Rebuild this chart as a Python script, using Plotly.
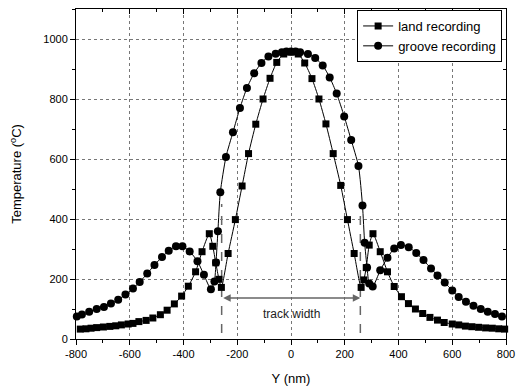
import plotly.graph_objects as go

# ---- data ----
land_y = [-784, -763, -744, -723, -698, -674, -652, -631, -606, -588, -566, -539, -514, -486, -461, -434, -407, -382,
          -355, -331, -304, -291, -280, -268, -259, -234, -207, -182, -158, -131, -104, -78, -53, -27, 0, 27,
          51, 78, 104, 130, 157, 185, 210, 235, 261, 271, 280, 291, 305, 332, 359, 384, 411, 437, 463, 490,
          517, 545, 570, 600, 624, 649, 673, 698, 724, 749, 773, 795]
land_t = [33, 34, 36, 38, 40, 42, 44, 47, 50, 52, 58, 62, 70, 81, 96, 117, 143, 176,
          224, 291, 351, 309, 254, 199, 172, 285, 398, 510, 618, 716, 800, 869, 922, 950, 956, 950,
          920, 868, 800, 717, 618, 512, 398, 285, 172, 197, 238, 313, 351, 291, 224, 175, 141, 118, 100, 85,
          72, 63, 55, 50, 47, 43, 41, 39, 37, 36, 34, 33]

groove_y = [-797, -778, -751, -723, -696, -670, -643, -616, -588, -563, -535, -508, -480, -455, -428, -404, -377,
            -348, -324, -298, -285, -279, -272, -263, -242, -216, -190, -164, -137, -110, -84, -57, -34, -17, 0,
            17, 34, 63, 90, 118, 144, 170, 198, 224, 251, 266, 274, 283, 291, 304, 332, 359, 384, 409, 438,
            466, 493, 521, 545, 572, 600, 624, 651, 679, 706, 732, 759, 785]
groove_t = [75, 82, 91, 100, 107, 118, 131, 148, 168, 190, 218, 247, 273, 294, 309, 309, 292,
            259, 214, 166, 192, 255, 359, 489, 607, 689, 770, 837, 886, 920, 942, 951, 956, 958, 958,
            958, 956, 950, 937, 912, 872, 818, 742, 663, 577, 445, 321, 238, 185, 175, 229, 271, 302, 313, 306,
            287, 263, 235, 212, 188, 162, 140, 124, 111, 100, 91, 83, 75]

x_ticks = [-800, -600, -400, -200, 0, 200, 400, 600, 800]
x_ticklabels = ["-800", "-600", "-400", "-200", "0", "200", "400", "600", "800"]
y_ticks = [0, 200, 400, 600, 800, 1000]
y_ticklabels = ["0", "200", "400", "600", "800", "1000"]

track_edges = [-258, 258]
track_line_span = [20, 450]
arrow_level = 137
label_level = 82

series_names = ["land recording", "groove recording"]

FONT = "Liberation Sans, Arial, sans-serif"

fig = go.Figure()

# dashed track edges
for xe in track_edges:
    fig.add_shape(type="line", xref="x", yref="y", x0=xe, x1=xe,
                  y0=track_line_span[0], y1=track_line_span[1],
                  line=dict(color="#666666", width=1.5, dash="dash"), layer="below")

fig.add_trace(go.Scatter(
    x=land_y, y=land_t, name=series_names[0], mode="lines+markers",
    line=dict(color="black", width=1, shape="spline", smoothing=0.6),
    marker=dict(symbol="square", size=7, color="black"),
    cliponaxis=False,
))
fig.add_trace(go.Scatter(
    x=groove_y, y=groove_t, name=series_names[1], mode="lines+markers",
    line=dict(color="black", width=1, shape="spline", smoothing=0.6),
    marker=dict(symbol="circle", size=8, color="black"),
    cliponaxis=False,
))

# double-headed "track width" arrow
fig.add_annotation(x=track_edges[1], y=arrow_level, ax=track_edges[0], ay=arrow_level,
                   xref="x", yref="y", axref="x", ayref="y", text="",
                   showarrow=True, arrowhead=2, startarrowhead=2, arrowside="end+start",
                   arrowsize=1, startarrowsize=1, arrowwidth=1.5, arrowcolor="#666666")
fig.add_annotation(x=0, y=label_level, xref="x", yref="y", text="track width",
                   showarrow=False, font=dict(family=FONT, size=12, color="#222222"))

axis_common = dict(
    showline=True, linecolor="black", linewidth=1,
    ticks="outside", ticklen=5, tickwidth=1, tickcolor="black",
    showgrid=True, gridcolor="#777777", griddash="dot", gridwidth=1,
    zeroline=False, automargin=False,
    tickfont=dict(family=FONT, size=11, color="black"),
    minor=dict(ticks="outside", ticklen=3, tickcolor="black", showgrid=False, dtick=100),
)

fig.update_layout(
    width=532, height=392,
    margin=dict(l=68, r=34, t=1, b=61),
    paper_bgcolor="white", plot_bgcolor="white",
    font=dict(family=FONT, size=12, color="black"),
    xaxis=dict(range=[-800, 800], tickmode="array", tickvals=x_ticks, ticktext=x_ticklabels,
               title=dict(text="Y (nm)", font=dict(family=FONT, size=13), standoff=14),
               **axis_common),
    yaxis=dict(range=[0, 1100], tickmode="array", tickvals=y_ticks, ticktext=y_ticklabels,
               title=dict(text="Temperature (<sup>o</sup>C)", font=dict(family=FONT, size=13), standoff=22),
               **axis_common),
    xaxis2=dict(overlaying="x", matches="x", side="top", range=[-800, 800], dtick=200, tick0=-800,
                showline=True, linecolor="black", linewidth=1, ticks="inside", ticklen=5,
                tickcolor="black", showticklabels=False, showgrid=False, zeroline=False,
                minor=dict(ticks="inside", ticklen=3, tickcolor="black", showgrid=False, dtick=100)),
    yaxis2=dict(overlaying="y", matches="y", side="right", range=[0, 1100], dtick=200, tick0=0,
                showline=True, linecolor="black", linewidth=1, ticks="inside", ticklen=5,
                tickcolor="black", showticklabels=False, showgrid=False, zeroline=False,
                minor=dict(ticks="inside", ticklen=3, tickcolor="black", showgrid=False, dtick=100)),
    legend=dict(x=0.991, y=0.997, xanchor="right", yanchor="top",
                bordercolor="black", borderwidth=1, bgcolor="white",
                font=dict(family=FONT, size=13, color="black"),
                tracegroupgap=0, itemwidth=30),
    showlegend=True,
)
# invisible trace to activate the mirrored axes
fig.add_trace(go.Scatter(x=[None], y=[None], xaxis="x2", yaxis="y2", showlegend=False, hoverinfo="skip"))

fig.write_html("out.html")
